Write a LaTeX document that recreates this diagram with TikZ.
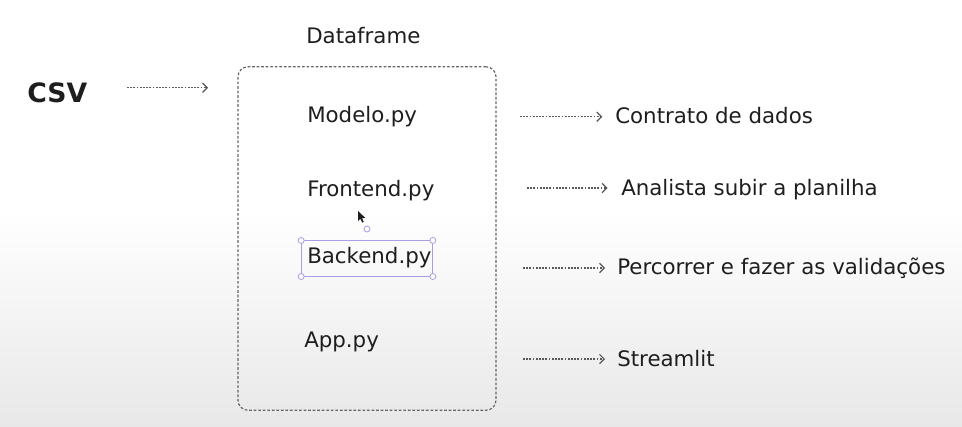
\documentclass[tikz,border=0pt]{standalone}
\usepackage{fontspec}
\setmainfont{DejaVu Sans}
\usetikzlibrary{arrows.meta,positioning}

\definecolor{ink}{HTML}{1E1E1E}
\definecolor{selcol}{RGB}{165,160,230}

\begin{document}
\begin{tikzpicture}[
  x=0.75pt, y=-0.75pt,
  lbl/.style={inner sep=0pt, anchor=west, text=ink, font=\fontsize{16}{18}\selectfont, text height=11.7pt, text depth=0pt},
  title/.style={lbl, font=\bfseries\fontsize{20}{22}\selectfont, text height=14.6pt},
  frame/.style={draw=black!60, line width=0.9pt, dash pattern=on 2pt off 1.4pt, rounded corners=7.5pt, minimum width=193.5pt, minimum height=257.6pt, inner sep=0pt},
  flow/.style={->, draw=black!65, line width=0.9pt, dash pattern=on 1.3pt off 1.1pt},
  selbox/.style={draw=selcol, line width=0.75pt, minimum width=98pt, minimum height=26.3pt, inner sep=0pt},
  handle/.style={circle, draw=selcol, fill=white, line width=0.6pt, minimum size=4.5pt, inner sep=0pt},
  >={Straight Barb[length=3.5pt, width=7pt, line width=0.9pt]}
]
% background
\useasboundingbox (0,0) rectangle (962,426);
\fill[white] (0,0) rectangle (962,426);
\shade[top color=white, bottom color=black!9] (0,210) rectangle (962,426);

% left side
\node[title] (csv) at (27,93) {CSV};
\node[lbl] (dataframe) at (306,35.5) {Dataframe};
\node[frame] (frame) at (367,238.5) {};

% files inside the frame
\node[lbl] (modelo) at (307,114.5) {Modelo.py};
\node[lbl] (frontend) at (307,189) {Frontend.py};
\node[lbl] (backend) at (307,255.5) {Backend.py};
\node[lbl] (app) at (304,340) {App.py};

% selection marks round Backend.py
\node[selbox] (sel) at (367,258.5) {};
\foreach \c/\n in {north west/nw, north east/ne, south west/sw, south east/se}
  \node[handle] (h\n) at (sel.\c) {};
\node[handle] (hrot) at (367,229) {};
\fill[ink] (358,211) -- (358,221) -- (360.3,218.8) -- (362.2,222.6) -- (363.8,221.9) -- (362,218.2) -- (365.2,217.8) -- cycle;

% descriptions
\node[lbl] (contrato) at (615,115.5) {Contrato de dados};
\node[lbl] (analista) at (621,188) {Analista subir a planilha};
\node[lbl] (percorrer) at (617,266.5) {Percorrer e fazer as validações};
\node[lbl] (streamlit) at (617,358.5) {Streamlit};

% arrows
\coordinate (csvout) at (127,87.7);
\coordinate (m1) at (520,116.7);
\coordinate (m2) at (527,188);
\coordinate (m3) at (523,268);
\coordinate (m4) at (523,359);
\draw[flow, shorten >=22pt] (csvout) -- (csvout -| frame.west);
\draw[flow, shorten >=9.5pt] (m1) -- (m1 -| contrato.west);
\draw[flow, shorten >=10pt] (m2) -- (m2 -| analista.west);
\draw[flow, shorten >=9pt] (m3) -- (m3 -| percorrer.west);
\draw[flow, shorten >=9pt] (m4) -- (m4 -| streamlit.west);
\end{tikzpicture}
\end{document}
